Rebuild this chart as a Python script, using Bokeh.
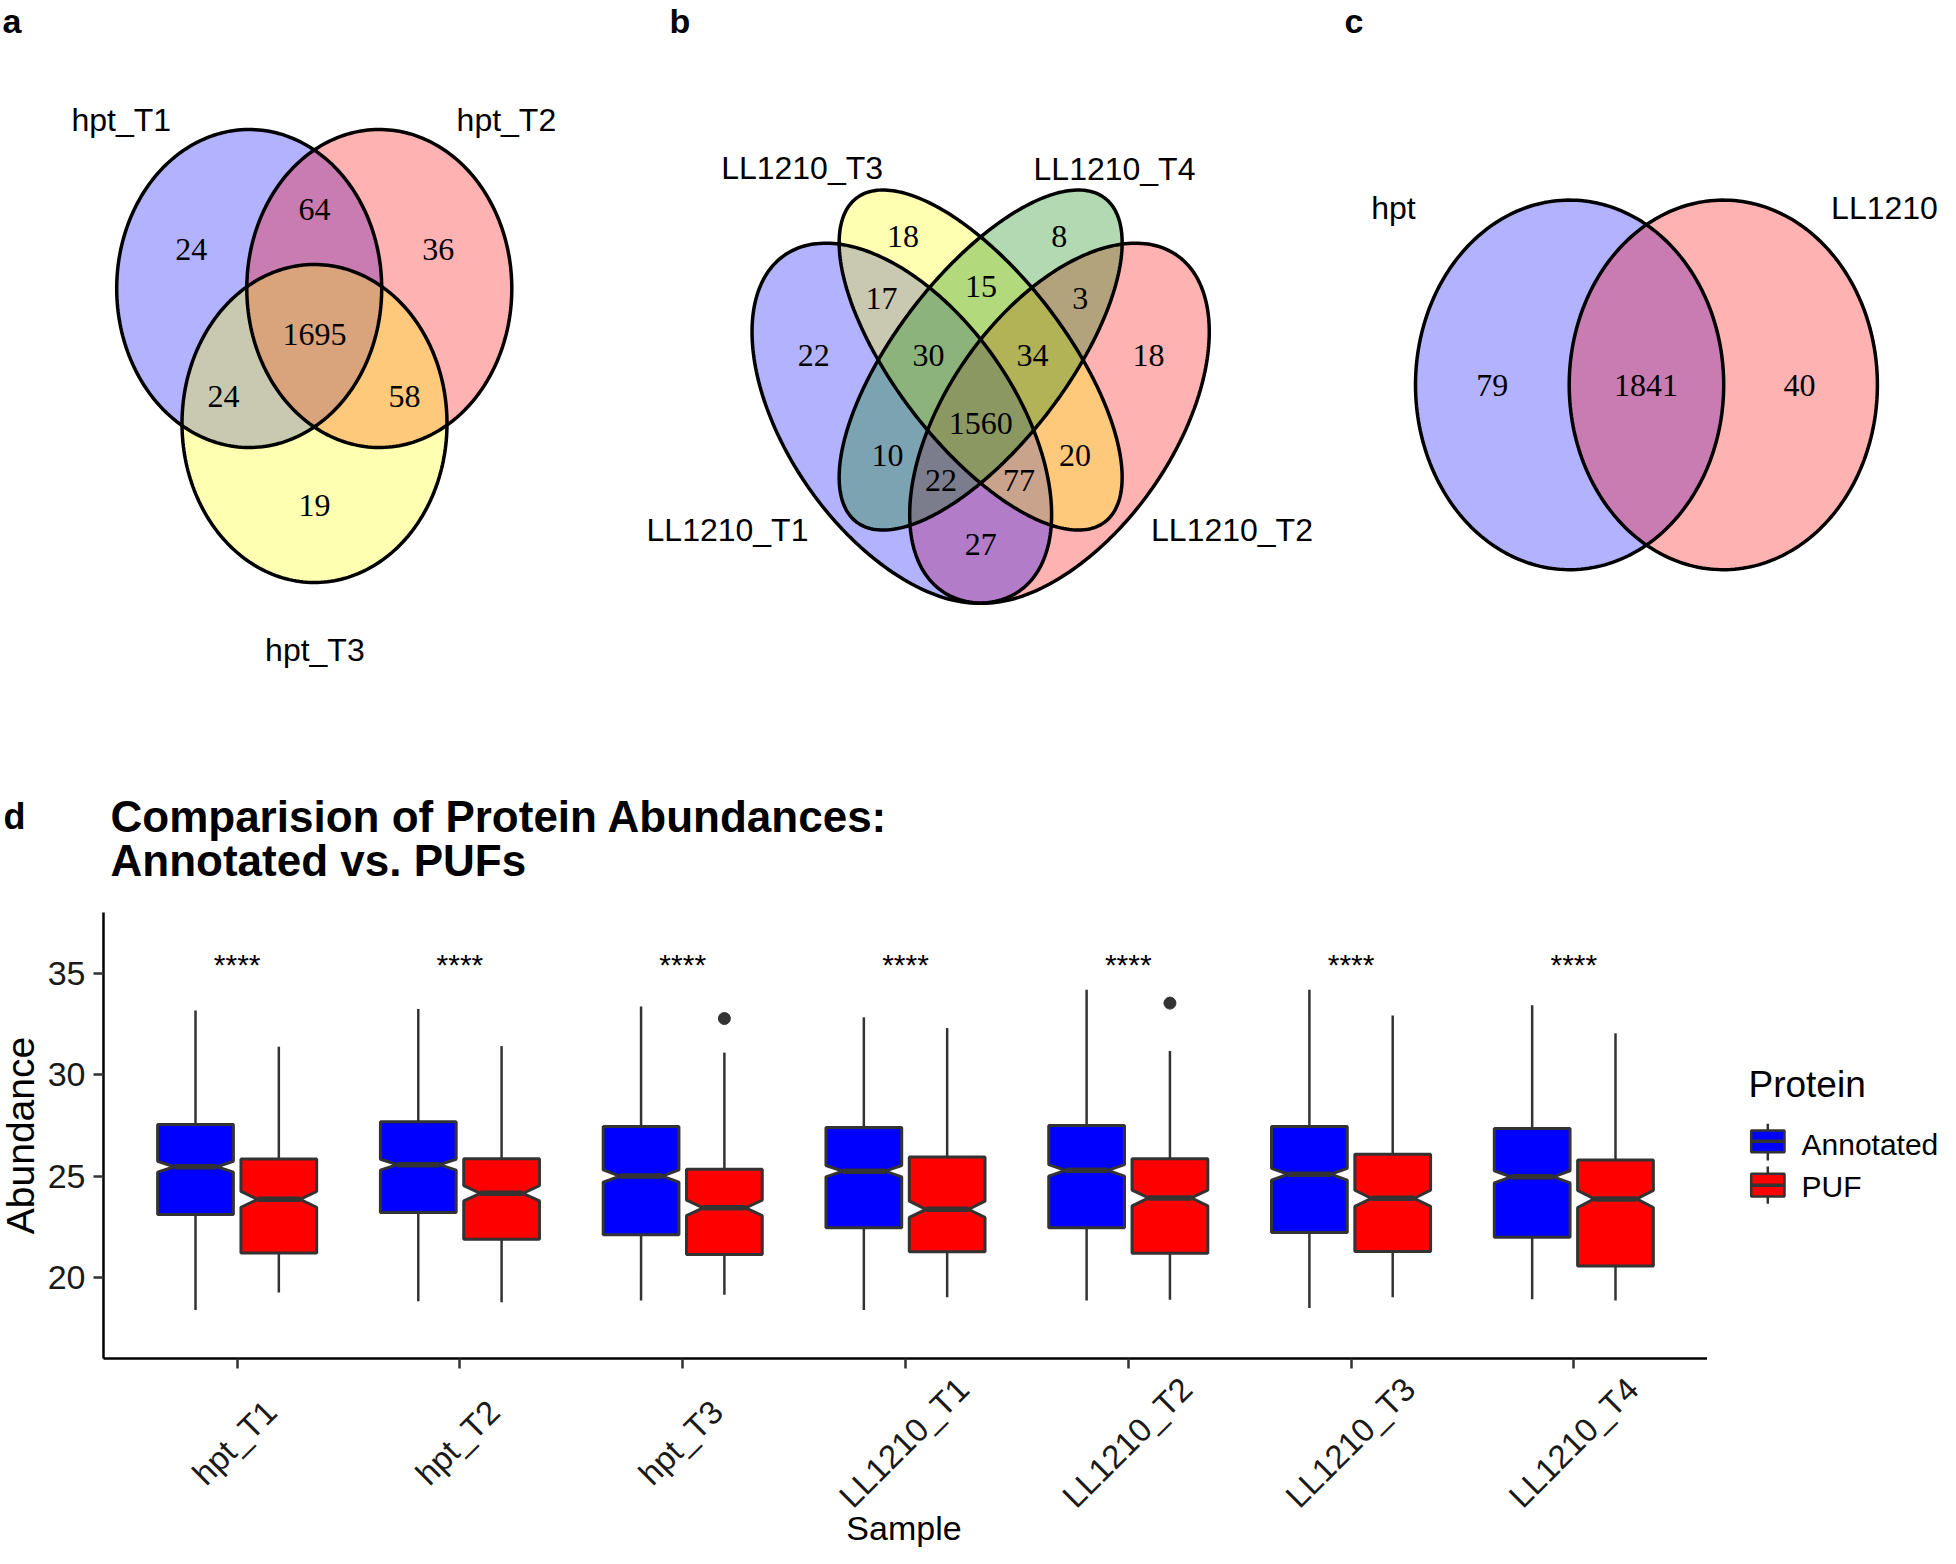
import numpy as np
from bokeh.plotting import figure
from bokeh.models import Range1d, FixedTicker
from bokeh.layouts import column, row
from bokeh.embed import file_html
from bokeh.resources import INLINE
from bokeh.core.properties import value

# ---------------- data ----------------
# panel a
venn_a_sets = ["hpt_T1", "hpt_T2", "hpt_T3"]
venn_a_colors = ["blue", "red", "yellow"]
# regions: T1 only, T1&T2, T2 only, T1&T2&T3, T1&T3, T2&T3, T3 only
venn_a_counts = [24, 64, 36, 1695, 24, 58, 19]

# panel b
venn_b_sets = ["LL1210_T1", "LL1210_T2", "LL1210_T3", "LL1210_T4"]
venn_b_colors = ["blue", "red", "yellow", "green"]
venn_b_counts = [18, 8, 17, 15, 3, 22, 30, 34, 18, 1560, 10, 20, 22, 77, 27]

# panel c
venn_c_sets = ["hpt", "LL1210"]
venn_c_colors = ["blue", "red"]
venn_c_counts = [79, 1841, 40]

# panel d
samples = ["hpt_T1", "hpt_T2", "hpt_T3", "LL1210_T1", "LL1210_T2", "LL1210_T3", "LL1210_T4"]
groups = ["Annotated", "PUF"]
group_colors = ["blue", "red"]
ann_lower = [18.39, 18.83, 18.86, 18.39, 18.86, 18.49, 18.92]
ann_q1 = [23.10, 23.20, 22.11, 22.45, 22.45, 22.22, 21.98]
ann_med = [25.46, 25.56, 25.00, 25.24, 25.28, 25.09, 24.96]
ann_q3 = [27.54, 27.68, 27.45, 27.39, 27.49, 27.45, 27.34]
ann_upper = [33.16, 33.24, 33.36, 32.83, 34.19, 34.19, 33.43]
ann_notch = [0.27, 0.27, 0.30, 0.28, 0.28, 0.29, 0.30]
puf_lower = [19.26, 18.77, 19.15, 19.02, 18.90, 19.02, 18.86]
puf_q1 = [21.21, 21.88, 21.13, 21.26, 21.19, 21.28, 20.56]
puf_med = [23.85, 24.15, 23.43, 23.36, 23.92, 23.90, 23.87]
puf_q3 = [25.84, 25.85, 25.34, 25.94, 25.85, 26.07, 25.79]
puf_upper = [31.38, 31.41, 31.09, 32.30, 31.17, 32.92, 32.04]
puf_notch = [0.39, 0.38, 0.38, 0.40, 0.39, 0.40, 0.42]
outlier_sample = ["hpt_T3", "LL1210_T2"]
outlier_value = [32.77, 33.53]
sig_labels = ["****"] * 7
sig_y = [35.45, 35.45, 35.45, 35.45, 35.45, 35.45, 35.45]
y_ticks = [20, 25, 30, 35]
Y_MIN, Y_MAX = 16.0, 38.0
X_MIN, X_MAX = 0.4, 7.6

SANS = value("Liberation Sans")
SERIF = value("Liberation Serif")

# ---------------- layout constants (picture pixel space) ----------------
A_ELL = [(248.7, 288.0), (378.8, 288.0), (314.0, 423.0)]
A_RX, A_RY = 132.5, 159.0
A_COUNT_POS = [(190.7, 249), (314, 209), (437.7, 249), (314, 334), (223, 396), (404, 396), (314, 504.5)]
A_LABEL_POS = [(120.8, 119.6), (505.9, 119.6), (314.4, 649.6)]

# quad venn ellipses in unit square (u, v, a, b, rotation)
B_ELL = [(0.35, 0.47, 0.35, 0.20, 135), (0.65, 0.47, 0.35, 0.20, 45),
         (0.50, 0.57, 0.35, 0.15, 135), (0.50, 0.57, 0.35, 0.15, 45)]
B_X0, B_SX, B_Y0, B_SY = 717.4, 525.5, 719.5, 631.5
B_COUNT_POS = [(902.5, 235.7), (1058.8, 235.7), (881, 298), (980.6, 285.7), (1079.7, 298),
               (813.2, 355), (928, 355), (1032, 355), (1148, 355), (980.2, 423),
               (886.9, 455.4), (1074.4, 455.4), (940.4, 480), (1018.6, 480), (980.2, 543.8)]
B_LABEL_POS = [(727, 529), (1231.5, 529), (801.6, 167.4), (1114, 168.8)]
B_ORDER = [1, 0, 2, 3]

C_ELL = [(1569.1, 384.4), (1722.8, 384.4)]
C_RX, C_RY = 154.1, 184.8
C_COUNT_POS = [(1491.7, 384.8), (1645.4, 384.8), (1799, 384.8)]
C_LABEL_POS = [(1393, 207.6), (1884, 207.6)]

W = 1940
FRAME_L, FRAME_R, FRAME_T, FRAME_B = 100, 1707, 912, 1358
BOT = 12
PAGE_H = 1548
MID = 0.35  # "middle" anchor sits ~0.35 em above the alphabetic baseline


def mid(baseline, size):
    return baseline - MID * size


def ell(cx, cy, rx, ry, n=240):
    t = np.linspace(0, 2 * np.pi, n)
    return list(cx + rx * np.cos(t)), list(cy + ry * np.sin(t))


def rot_ell(u, v, a, b, rot, n=240):
    t = np.linspace(0, 2 * np.pi, n)
    th = np.deg2rad(rot)
    uu = u + a * np.cos(t) * np.cos(th) - b * np.sin(t) * np.sin(th)
    vv = v + a * np.cos(t) * np.sin(th) + b * np.sin(t) * np.cos(th)
    return list(B_X0 + uu * B_SX), list(B_Y0 - vv * B_SY)


def canvas(w, h, xr, yr, bottom=0):
    f = figure(width=w, height=h, x_range=xr, y_range=yr, x_axis_type=None,
               y_axis_type=None, output_backend="svg", toolbar_location=None,
               min_border_left=0, min_border_right=0, min_border_top=0,
               min_border_bottom=bottom, outline_line_color=None)
    f.grid.visible = False
    return f


# ---------------- top canvas: venn a, b, c, panel letters, title ----------------
top = canvas(W, FRAME_T, Range1d(0, W), Range1d(FRAME_T, 0))

shapes = []
for (cx, cy), col in zip(A_ELL, venn_a_colors):
    xs, ys = ell(cx, cy, A_RX, A_RY)
    shapes.append((xs, ys, col))
for i in B_ORDER:
    xs, ys = rot_ell(*B_ELL[i])
    shapes.append((xs, ys, venn_b_colors[i]))
for (cx, cy), col in zip(C_ELL, venn_c_colors):
    xs, ys = ell(cx, cy, C_RX, C_RY)
    shapes.append((xs, ys, col))

top.patches(xs=[s[0] for s in shapes], ys=[s[1] for s in shapes],
            fill_color=[s[2] for s in shapes], fill_alpha=0.3, line_color=None)
top.patches(xs=[s[0] for s in shapes], ys=[s[1] for s in shapes],
            fill_color=None, line_color="black", line_width=3.5)

cnt_x = [p[0] for p in A_COUNT_POS + B_COUNT_POS + C_COUNT_POS]
cnt_y = [p[1] for p in A_COUNT_POS + B_COUNT_POS + C_COUNT_POS]
cnt_t = [str(v) for v in venn_a_counts + venn_b_counts + venn_c_counts]
top.text(x=cnt_x, y=cnt_y, text=cnt_t, text_font=SERIF, text_font_size="32px",
         text_align="center", text_baseline="middle", text_color="black")

lab_pos = A_LABEL_POS + B_LABEL_POS + C_LABEL_POS
top.text(x=[p[0] for p in lab_pos], y=[p[1] for p in lab_pos],
         text=venn_a_sets + venn_b_sets + venn_c_sets, text_font=SANS,
         text_font_size="32px", text_align="center", text_baseline="middle",
         text_color="black")

top.text(x=[2, 669, 1344], y=[20.5, 20.5, 20.5], text=["a", "b", "c"],
         text_font=SANS, text_font_style="bold", text_font_size="34px",
         text_align="left", text_baseline="middle", text_color="black")
top.text(x=[3], y=[815.7], text=["d"],
         text_font=SANS, text_font_style="bold", text_font_size="36px",
         text_align="left", text_baseline="middle", text_color="black")

top.text(x=[110, 110], y=[815.7, 860.0],
         text=["Comparision of Protein Abundances:", "Annotated vs. PUFs"],
         text_font=SANS, text_font_style="bold", text_font_size="44px",
         text_align="left", text_baseline="middle", text_color="black")

# ---------------- box plot ----------------
YLAB_W = 44
box = figure(width=FRAME_R - YLAB_W, height=(FRAME_B - FRAME_T) + BOT,
             x_range=Range1d(X_MIN, X_MAX), y_range=Range1d(Y_MIN, Y_MAX),
             output_backend="svg", toolbar_location=None,
             min_border_left=FRAME_L - YLAB_W, min_border_right=0, min_border_top=0,
             min_border_bottom=BOT, outline_line_color=None)
box.grid.visible = False
box.xaxis.ticker = FixedTicker(ticks=list(range(1, len(samples) + 1)))
box.yaxis.ticker = FixedTicker(ticks=y_ticks)
for ax in box.axis:
    ax.axis_line_width = 2.5
    ax.axis_line_color = "black"
    ax.major_tick_line_color = "#333333"
    ax.major_tick_line_width = 2.5
    ax.major_tick_out = 10
    ax.major_tick_in = 0
    ax.minor_tick_line_color = None
    ax.axis_label = None
box.yaxis.major_label_text_font = "Liberation Sans"
box.yaxis.major_label_text_font_size = "34px"
box.yaxis.major_label_text_color = "#1a1a1a"
box.yaxis.major_label_standoff = 8
# x tick labels are drawn rotated & centred in the strip below
box.xaxis.major_label_text_font_size = "1px"
box.xaxis.major_label_text_color = None
box.xaxis.major_label_standoff = 0

OFF, BW, IND = 0.187, 0.34, 0.22
stats = [
    (ann_lower, ann_q1, ann_med, ann_q3, ann_upper, ann_notch, -OFF, group_colors[0]),
    (puf_lower, puf_q1, puf_med, puf_q3, puf_upper, puf_notch, OFF, group_colors[1]),
]
wx0, wy0, wx1, wy1 = [], [], [], []
pxs, pys, pcol = [], [], []
mx0, mx1, my = [], [], []
for lo, q1, md, q3, hi, nt, off, colr in stats:
    for i in range(len(samples)):
        xc = i + 1 + off
        wx0 += [xc, xc]; wx1 += [xc, xc]
        wy0 += [q3[i], q1[i]]; wy1 += [hi[i], lo[i]]
        x0, x1 = xc - BW / 2, xc + BW / 2
        ind = IND * BW
        pxs.append([x0, x0, x0 + ind, x0, x0, x1, x1, x1 - ind, x1, x1])
        pys.append([q1[i], md[i] - nt[i], md[i], md[i] + nt[i], q3[i],
                    q3[i], md[i] + nt[i], md[i], md[i] - nt[i], q1[i]])
        pcol.append(colr)
        mx0.append(x0 + ind); mx1.append(x1 - ind); my.append(md[i])

box.segment(x0=wx0, y0=wy0, x1=wx1, y1=wy1, line_color="#333333", line_width=2.5)
box.patches(xs=pxs, ys=pys, fill_color=pcol, line_color="#333333", line_width=3)
box.segment(x0=mx0, y0=my, x1=mx1, y1=my, line_color="#333333", line_width=5.5)
box.scatter(x=[samples.index(s) + 1 + OFF for s in outlier_sample], y=outlier_value,
            size=12, color="#333333")
box.text(x=list(range(1, len(samples) + 1)), y=sig_y, text=sig_labels, text_font=SANS,
         text_font_size="30px", text_align="center", text_baseline="middle",
         text_color="black")

# ---------------- y axis title ----------------
ylab = canvas(YLAB_W, (FRAME_B - FRAME_T) + BOT, Range1d(0, YLAB_W),
              Range1d(0, FRAME_B - FRAME_T), bottom=BOT)
ylab.text(x=[20], y=[FRAME_B - 1135], text=["Abundance"], angle=np.pi / 2,
          text_font=SANS, text_font_size="39px", text_align="center",
          text_baseline="middle", text_color="black")

# ---------------- legend ----------------
leg = canvas(W - FRAME_R, (FRAME_B - FRAME_T) + BOT, Range1d(FRAME_R, W),
             Range1d(FRAME_B, FRAME_T), bottom=BOT)
leg.text(x=[1748], y=[mid(1096.7, 37)], text=["Protein"], text_font=SANS,
         text_font_size="37px", text_align="left", text_baseline="middle",
         text_color="black")
key_top = [1130.0, 1173.3]
key_bot = [1151.7, 1196.0]
key_wt = [1123.3, 1166.0]
key_wb = [1160.0, 1203.3]
key_mid = [1140.7, 1184.7]
leg.segment(x0=[1767.3] * 2, y0=key_wt, x1=[1767.3] * 2, y1=key_wb,
            line_color="#333333", line_width=2.5)
leg.quad(left=[1750.7] * 2, right=[1784] * 2, top=key_top, bottom=key_bot,
         fill_color=group_colors, line_color="#333333", line_width=2.5)
leg.segment(x0=[1750.7] * 2, y0=key_mid, x1=[1784] * 2, y1=key_mid,
            line_color="#333333", line_width=3.5)
leg.text(x=[1801, 1801], y=[mid(1154, 30), mid(1196.7, 30)], text=groups, text_font=SANS,
         text_font_size="30px", text_align="left", text_baseline="middle",
         text_color="black")

# ---------------- x tick labels + x title (same x scale as the box frame) ----------------
XL_TOP = FRAME_B + BOT
XL_H = PAGE_H - XL_TOP
k = (X_MAX - X_MIN) / (FRAME_R - FRAME_L)
xl_range = Range1d(X_MIN - FRAME_L * k, X_MAX + (W - FRAME_R) * k)
xlab = canvas(W, XL_H, xl_range, Range1d(0, XL_H))
xlab.text(x=list(range(1, len(samples) + 1)), y=[XL_H - (1442 - XL_TOP)] * len(samples),
          text=samples, angle=np.pi / 4, text_font=SANS, text_font_size="33px",
          text_align="center", text_baseline="middle", text_color="#1a1a1a")
xlab.text(x=[(X_MIN + X_MAX) / 2], y=[XL_H - (1527 - XL_TOP)], text=["Sample"],
          text_font=SANS, text_font_size="34px", text_align="center",
          text_baseline="middle", text_color="black")

layout = column(top, row(ylab, box, leg), xlab)
open("out.html", "w").write(file_html(layout, INLINE))
